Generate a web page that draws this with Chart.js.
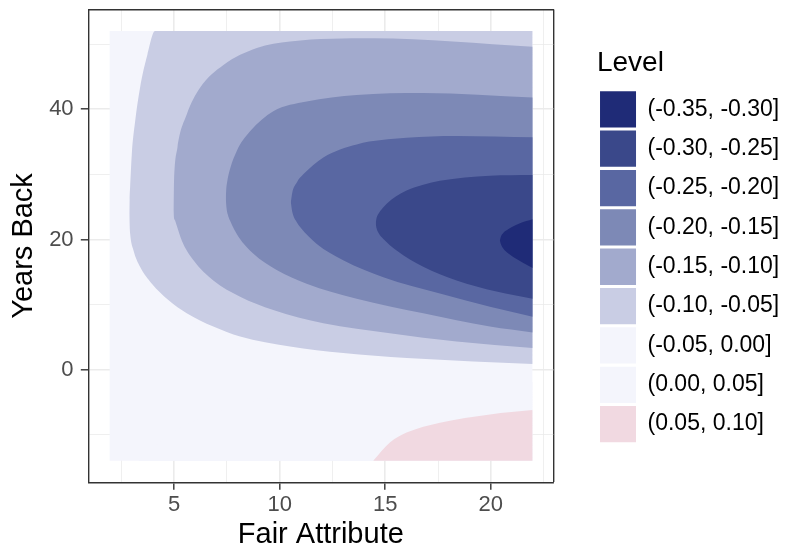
<!DOCTYPE html>
<html>
<head>
<meta charset="utf-8">
<script src="https://cdn.jsdelivr.net/npm/chart.js@4.4.1/dist/chart.umd.min.js"></script>
<style>
html,body{margin:0;padding:0;background:#ffffff;}
#wrap{width:788px;height:550px;}
</style>
</head>
<body>
<div id="wrap"><canvas id="c" width="788" height="550"></canvas></div>
<script>
// ---------- data ----------
const levels = ['(-0.35, -0.30]', '(-0.30, -0.25]', '(-0.25, -0.20]', '(-0.20, -0.15]',
  '(-0.15, -0.10]', '(-0.10, -0.05]', '(-0.05, 0.00]', '(0.00, 0.05]', '(0.05, 0.10]'];
const levelColors = ['#1F2B77', '#3A488A', '#5967A2', '#7D89B6', '#A2AACD', '#C9CDE4', '#F4F5FC', '#F4F5FC', '#F1D9E1'];

const xTickValues = [2.5, 5, 7.5, 10, 12.5, 15, 17.5, 20, 22.5];
const xTickLabels = ['', '5', '', '10', '', '15', '', '20', ''];
const yTickValues = [-10, 0, 10, 20, 30, 40, 50];
const yTickLabels = ['', '0', '', '20', '', '40', ''];
const xAxisRange = [0.94, 22.96];
const yAxisRange = [-17.3, 55.3];
const gridX = [1.94, 21.98];   // extent of the contour grid (Fair Attribute)
const gridY = [-14, 52];       // extent of the contour grid (Years Back)

// contour boundaries (upper and lower branch of each closed level region)
// level (-0.35, -0.30]
const l30UpperX = [20.43, 20.48, 20.59, 20.75, 21.00, 21.38, 21.98];
const l30UpperY = [19.85, 20.45, 21.0, 21.4, 21.9, 22.5, 23.1];
const l30LowerX = [20.43, 20.48, 20.59, 20.80, 21.06, 21.54, 21.98];
const l30LowerY = [19.85, 19.25, 18.6, 17.9, 17.3, 16.4, 15.6];
// level (-0.30, -0.25]
const l25UpperX = [14.55, 14.59, 14.69, 14.87, 15.07, 15.50, 16.01, 16.80, 17.59, 19.96, 21.98];
const l25UpperY = [22.5, 23.3, 24.0, 24.8, 25.5, 26.6, 27.5, 28.4, 29.0, 29.8, 29.9];
const l25LowerX = [14.55, 14.59, 14.70, 14.90, 15.54, 16.80, 18.38, 20.27, 21.98];
const l25LowerY = [22.5, 21.7, 20.9, 20.1, 18.3, 15.8, 13.7, 12.0, 10.9];
// level (-0.25, -0.20]
const l20UpperX = [10.53, 10.60, 10.82, 11.12, 12.07, 13.65, 16.01, 18.38, 21.98];
const l20UpperY = [25.7, 27.2, 28.8, 30.0, 32.6, 34.6, 35.6, 35.9, 35.7];
const l20LowerX = [10.53, 10.60, 10.82, 10.97, 11.76, 13.01, 14.91, 17.59, 19.96, 21.98];
const l20LowerY = [25.7, 24.2, 22.6, 21.9, 19.3, 16.8, 14.2, 11.7, 9.66, 8.14];
// level (-0.20, -0.15]
const l15UpperX = [7.45, 7.47, 7.52, 7.60, 7.97, 8.60, 9.70, 11.28, 13.65, 16.80, 21.98];
const l15UpperY = [26.3, 27.6, 28.9, 30.2, 33.6, 36.6, 39.7, 41.2, 42.2, 42.5, 41.8];
const l15LowerX = [7.45, 7.48, 7.55, 7.65, 8.05, 8.76, 9.86, 11.28, 13.65, 16.80, 19.96, 21.98];
const l15LowerY = [26.3, 25.0, 23.8, 22.9, 20.4, 17.8, 15.3, 13.2, 10.9, 8.66, 6.61, 5.70];
// level (-0.15, -0.10]
const l10UpperX = [4.97, 4.98, 5.00, 5.16, 5.60, 6.23, 7.34, 8.92, 10.49, 14.43, 21.98];
const l10UpperY = [24.5, 26.5, 29.0, 34.1, 39.2, 43.3, 46.8, 49.4, 50.4, 50.9, 49.6];
const l10LowerX = [4.97, 4.99, 5.05, 5.37, 5.92, 6.86, 8.13, 9.70, 12.07, 15.22, 18.38, 21.98];
const l10LowerY = [24.5, 23.5, 22.9, 19.8, 16.8, 13.7, 11.2, 9.16, 7.13, 5.60, 4.32, 3.31];
// level (-0.10, -0.05]
const l05UpperX = [2.88, 2.89, 2.92, 3.00, 3.16, 3.39, 3.74, 4.10, 21.98];
const l05UpperY = [24.0, 26.0, 28.0, 33.1, 38.2, 43.3, 48.4, 52.0, 52.0];
const l05LowerX = [2.88, 2.89, 2.92, 3.08, 3.39, 3.95, 4.73, 5.60, 6.86, 8.13, 10.49, 13.01, 16.02, 19.17, 21.98];
const l05LowerY = [24.0, 22.5, 20.9, 18.3, 15.8, 13.2, 10.7, 8.66, 6.61, 5.08, 3.56, 2.55, 1.79, 1.27, 0.87];
// level (0.05, 0.10]
const p10UpperX = [14.43, 15.22, 16.01, 17.59, 19.96, 21.98];
const p10UpperY = [-14.0, -11.2, -9.67, -8.14, -6.87, -6.2];
const p10LowerX = [14.43, 21.98];
const p10LowerY = [-14.0, -14.0];
// level (0.00, 0.05]
const p05UpperX = [3.3, 4.96, 7.0, 10.0, 14.9, 17.3, 20.4, 21.98];
const p05UpperY = [-14.0, -9.6, -6.5, -4.1, -2.5, -2.3, -2.0, -1.9];
const p05LowerX = [3.3, 21.98];
const p05LowerY = [-14.0, -14.0];
// level (-0.05, 0.00] : whole grid
const bgUpperX = [gridX[0], gridX[1]];
const bgUpperY = [gridY[1], gridY[1]];
const bgLowerX = [gridX[0], gridX[1]];
const bgLowerY = [gridY[0], gridY[0]];

// ---------- build ----------
const FONT = "'Liberation Sans', Arial, Helvetica, sans-serif";
Chart.defaults.font.family = FONT;

const toPts = (xs, ys) => xs.map((x, i) => ({x: x, y: ys[i]}));
// darkest first in the list so that it is painted last (on top)
const regions = [
  {level: 0, ux: l30UpperX, uy: l30UpperY, lx: l30LowerX, ly: l30LowerY},
  {level: 1, ux: l25UpperX, uy: l25UpperY, lx: l25LowerX, ly: l25LowerY},
  {level: 2, ux: l20UpperX, uy: l20UpperY, lx: l20LowerX, ly: l20LowerY},
  {level: 3, ux: l15UpperX, uy: l15UpperY, lx: l15LowerX, ly: l15LowerY},
  {level: 4, ux: l10UpperX, uy: l10UpperY, lx: l10LowerX, ly: l10LowerY},
  {level: 5, ux: l05UpperX, uy: l05UpperY, lx: l05LowerX, ly: l05LowerY},
  {level: 8, ux: p10UpperX, uy: p10UpperY, lx: p10LowerX, ly: p10LowerY},
  {level: 7, ux: p05UpperX, uy: p05UpperY, lx: p05LowerX, ly: p05LowerY},
  {level: 6, ux: bgUpperX, uy: bgUpperY, lx: bgLowerX, ly: bgLowerY}
];

const datasets = [];
regions.forEach(r => {
  const common = {
    pointRadius: 0, pointHoverRadius: 0, borderWidth: 0,
    borderColor: 'rgba(0,0,0,0)', cubicInterpolationMode: 'monotone',
    xAxisID: 'x', yAxisID: 'y'
  };
  datasets.push(Object.assign({}, common, {
    label: levels[r.level] + ' lower', data: toPts(r.lx, r.ly), fill: false,
    backgroundColor: levelColors[r.level]
  }));
  datasets.push(Object.assign({}, common, {
    label: levels[r.level], data: toPts(r.ux, r.uy), fill: '-1',
    backgroundColor: levelColors[r.level]
  }));
});

const isMajorX = v => { const i = xTickValues.indexOf(v); return i >= 0 && xTickLabels[i] !== ''; };
const isMajorY = v => { const i = yTickValues.indexOf(v); return i >= 0 && yTickLabels[i] !== ''; };
const isRightEdge = v => v === xAxisRange[1];

new Chart(document.getElementById('c'), {
  type: 'line',
  data: {datasets: datasets},
  options: {
    responsive: false,
    animation: false,
    devicePixelRatio: 1,
    events: [],
    layout: {padding: {left: 0, right: -1.2, top: 0, bottom: 0}},
    plugins: {
      tooltip: {enabled: false},
      legend: {
        display: true,
        position: 'right',
        align: 'center',
        fullSize: false,
        onClick: null,
        title: {
          display: true, text: 'Level', position: 'start', color: '#000000',
          font: {family: FONT, size: 28},
          padding: {top: 2.25, bottom: 5.75}
        },
        labels: {
          boxWidth: 36, boxHeight: 36.3, padding: 3.05, color: '#000000',
          font: {family: FONT, size: 23},
          generateLabels: () => levels.map((t, i) => ({
            text: t, fillStyle: levelColors[i], strokeStyle: levelColors[i],
            lineWidth: 0, hidden: false, index: i
          }))
        }
      }
    },
    scales: {
      x: {
        type: 'linear', position: 'bottom', min: xAxisRange[0], max: xAxisRange[1],
        afterBuildTicks: s => {
          s.ticks = xTickValues.map(v => ({value: v})).concat([{value: xAxisRange[1]}]);
        },
        afterFit: s => { s.height = 67.7; s.paddingLeft = 0; s.paddingRight = 0; },
        ticks: {
          autoSkip: false, maxRotation: 0, minRotation: 0, padding: 2.2,
          color: '#4D4D4D', font: {family: FONT, size: 22},
          callback: v => { const i = xTickValues.indexOf(v); return i >= 0 ? xTickLabels[i] : ''; }
        },
        grid: {
          color: c => (c.tick && isRightEdge(c.tick.value)) ? '#333333' : '#EBEBEB',
          lineWidth: c => !c.tick ? 1.4 : (isRightEdge(c.tick.value) ? 1.4 : (isMajorX(c.tick.value) ? 1.6 : 0.8)),
          drawTicks: true, tickLength: 7.5, tickWidth: 1.4,
          tickColor: c => (c.tick && isMajorX(c.tick.value)) ? '#333333' : 'rgba(0,0,0,0)'
        },
        border: {display: true, color: '#333333', width: 1.4},
        title: {
          display: true, text: 'Fair Attribute', color: '#000000',
          font: {family: FONT, size: 29, lineHeight: 1},
          padding: {top: 0, bottom: 0.7}
        }
      },
      y: {
        type: 'linear', position: 'left', min: yAxisRange[0], max: yAxisRange[1],
        afterBuildTicks: s => { s.ticks = yTickValues.map(v => ({value: v})); },
        afterFit: s => { s.width = 88.3; s.paddingTop = 0; s.paddingBottom = 0; },
        ticks: {
          autoSkip: false, padding: 7.2,
          color: '#4D4D4D', font: {family: FONT, size: 22},
          callback: v => { const i = yTickValues.indexOf(v); return i >= 0 ? yTickLabels[i] : ''; }
        },
        grid: {
          color: '#EBEBEB',
          lineWidth: c => (c.tick && isMajorY(c.tick.value)) ? 1.6 : 0.8,
          drawTicks: true, tickLength: 7.5, tickWidth: 1.4,
          tickColor: c => (c.tick && isMajorY(c.tick.value)) ? '#333333' : 'rgba(0,0,0,0)'
        },
        border: {display: true, color: '#333333', width: 1.4},
        title: {
          display: true, text: 'Years Back', color: '#000000',
          font: {family: FONT, size: 29, lineHeight: 1},
          padding: {top: 9.5, bottom: 0}
        }
      },
      x2: {
        type: 'linear', position: 'top', min: xAxisRange[0], max: xAxisRange[1],
        ticks: {display: false},
        grid: {display: false, drawTicks: false},
        border: {display: true, color: '#333333', width: 1.4},
        afterFit: s => { s.height = 9.6; s.paddingLeft = 0; s.paddingRight = 0; }
      },
      y2: {
        type: 'linear', position: 'right', display: false,
        min: yAxisRange[0], max: yAxisRange[1],
        afterFit: s => { s.width = 43.65; s.paddingTop = 0; s.paddingBottom = 0; }
      }
    }
  }
});
</script>
</body>
</html>
